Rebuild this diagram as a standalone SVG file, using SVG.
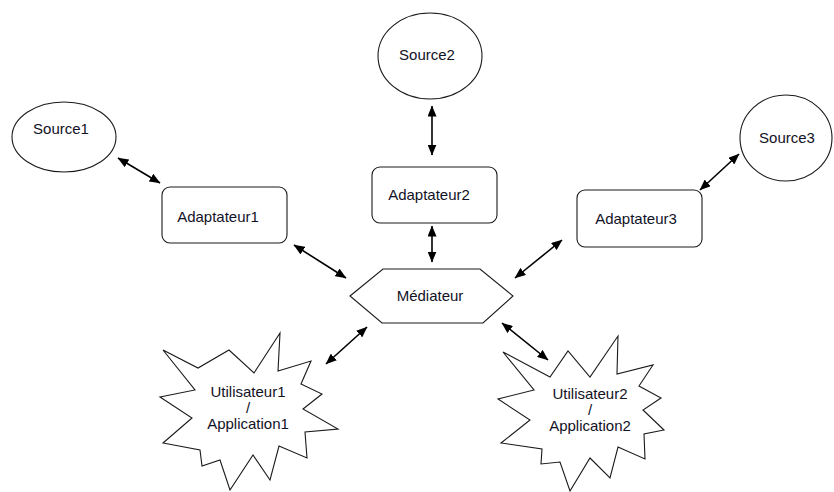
<svg xmlns="http://www.w3.org/2000/svg" width="834" height="492" viewBox="0 0 834 492">
  <style>
    .shape { fill: #ffffff; stroke: #1a1a1a; stroke-width: 1.1; }
    .label { font-family: "Liberation Sans", Arial, sans-serif; font-size: 15px; fill: #121226; text-anchor: middle; dominant-baseline: central; }
    .link { stroke: #000000; stroke-width: 1.6; fill: none; marker-start: url(#head); marker-end: url(#head); }
  </style>
  <defs>
    <marker id="head" viewBox="0 0 11 9" refX="10.5" refY="4.5" markerWidth="11" markerHeight="9" markerUnits="userSpaceOnUse" orient="auto-start-reverse">
      <path d="M0,0 L11,4.5 L0,9 z" fill="#000000"/>
    </marker>
  </defs>
  <rect width="834" height="492" fill="#ffffff"/>

  <!-- connectors -->
  <g id="connectors">
    <line class="link" x1="118" y1="158" x2="160" y2="183"/>
    <line class="link" x1="294" y1="245" x2="346" y2="278"/>
    <line class="link" x1="432" y1="106" x2="432" y2="155"/>
    <line class="link" x1="432" y1="226" x2="432" y2="262"/>
    <line class="link" x1="739" y1="154" x2="700" y2="190"/>
    <line class="link" x1="562" y1="240" x2="515" y2="278"/>
    <line class="link" x1="367" y1="327" x2="326" y2="364"/>
    <line class="link" x1="502" y1="323" x2="548" y2="360"/>
  </g>

  <!-- sources -->
  <g id="source1">
    <ellipse class="shape" cx="64" cy="137" rx="52" ry="35"/>
    <text class="label" x="61" y="128">Source1</text>
  </g>
  <g id="source2">
    <ellipse class="shape" cx="430" cy="56" rx="52" ry="43"/>
    <text class="label" x="427" y="54">Source2</text>
  </g>
  <g id="source3">
    <ellipse class="shape" cx="786" cy="138" rx="46" ry="43"/>
    <text class="label" x="787" y="137">Source3</text>
  </g>

  <!-- adapters -->
  <g id="adaptateur1">
    <rect class="shape" x="162" y="187" width="125" height="56" rx="8"/>
    <text class="label" x="218" y="216">Adaptateur1</text>
  </g>
  <g id="adaptateur2">
    <rect class="shape" x="372" y="167" width="125" height="56" rx="8"/>
    <text class="label" x="429" y="194">Adaptateur2</text>
  </g>
  <g id="adaptateur3">
    <rect class="shape" x="577" y="190" width="125" height="57" rx="8"/>
    <text class="label" x="636" y="218">Adaptateur3</text>
  </g>

  <!-- mediator -->
  <g id="mediateur">
    <polygon class="shape" points="350,296 383,269 480,269 513,296 483,323 382,323"/>
    <text class="label" x="430" y="295">Médiateur</text>
  </g>

  <!-- users / applications -->
  <g id="utilisateur1">
    <polygon class="shape" points="163,350 198,368 229,350 254,373 280,333 278,371 311,361 301,384 322,394 303,409 338,429 305,432 307,458 279,446 270,480 253,455 230,490 220,460 202,466 200,450 163,443 192,418 160,397 195,390"/>
    <text class="label" x="248" y="391">Utilisateur1</text>
    <text class="label" x="248" y="407">/</text>
    <text class="label" x="248" y="423">Application1</text>
  </g>
  <g id="utilisateur2">
    <polygon class="shape" points="503,352 550,377 568,351 590,377 618,336 617,374 653,365 639,386 661,398 643,410 664,430 644,434 645,459 618,447 610,478 590,458 570,491 560,462 541,464 542,449 501,443 530,420 498,399 534,390"/>
    <text class="label" x="590" y="393">Utilisateur2</text>
    <text class="label" x="590" y="409">/</text>
    <text class="label" x="590" y="425">Application2</text>
  </g>
</svg>
